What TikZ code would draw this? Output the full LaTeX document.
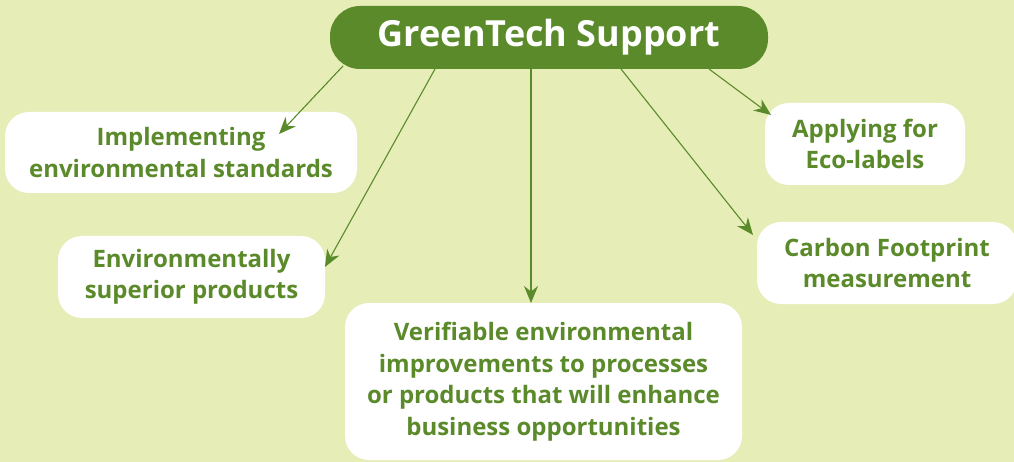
\documentclass[tikz,border=0pt]{standalone}
\usepackage{fontspec}
\setmainfont{Open Sans}
\usetikzlibrary{arrows.meta}
\definecolor{bg}{HTML}{E6EDB7}
\definecolor{gtgreen}{HTML}{5B8A2B}
\begin{document}
\begin{tikzpicture}[x=1pt,y=-1pt,
  leaf/.style={fill=white,rounded corners=24pt,text=gtgreen,font=\bfseries\fontsize{24}{31.5}\selectfont,align=center,inner sep=0pt},
  conn/.style={draw=gtgreen,line width=1.1pt,-{Stealth[length=17pt,width=14pt]}}]
\fill[bg] (0,0) rectangle (1014,462);
\useasboundingbox (0,0) rectangle (1014,462);
\node[fill=gtgreen,rounded corners=30pt,minimum width=438pt,minimum height=63pt,inner sep=0pt,text=white,font=\bfseries\fontsize{36}{42}\selectfont] (title) at (549,37.5) {GreenTech Support};
\node[leaf,minimum width=352pt,minimum height=81pt] (impl) at (181,152.5) {Implementing\\environmental standards};
\node[leaf,minimum width=267pt,minimum height=82pt] (sup) at (191.5,277) {Environmentally\\superior products};
\node[leaf,minimum width=397pt,minimum height=157pt] (ver) at (543.5,381.5) {Verifiable environmental\\improvements to processes\\or products that will enhance\\business opportunities};
\node[leaf,minimum width=200pt,minimum height=82pt] (eco) at (865,144) {Applying for\\Eco-labels};
\node[leaf,minimum width=260pt,minimum height=82pt] (carb) at (887,263) {Carbon Footprint\\measurement};
\coordinate (s1) at (343,66); \coordinate (e1) at (279,134);
\coordinate (s2) at (435,69); \coordinate (e2) at (325,267);
\coordinate (s3) at (531,69); \coordinate (e3) at (531,303);
\coordinate (s4) at (621,69); \coordinate (e4) at (753,235);
\coordinate (s5) at (709,69); \coordinate (e5) at (771,115);
\draw[conn] (s1) -- (e1);
\draw[conn] (s2) -- (e2);
\draw[conn] (s3) -- (e3);
\draw[conn] (s4) -- (e4);
\draw[conn] (s5) -- (e5);
\end{tikzpicture}
\end{document}
